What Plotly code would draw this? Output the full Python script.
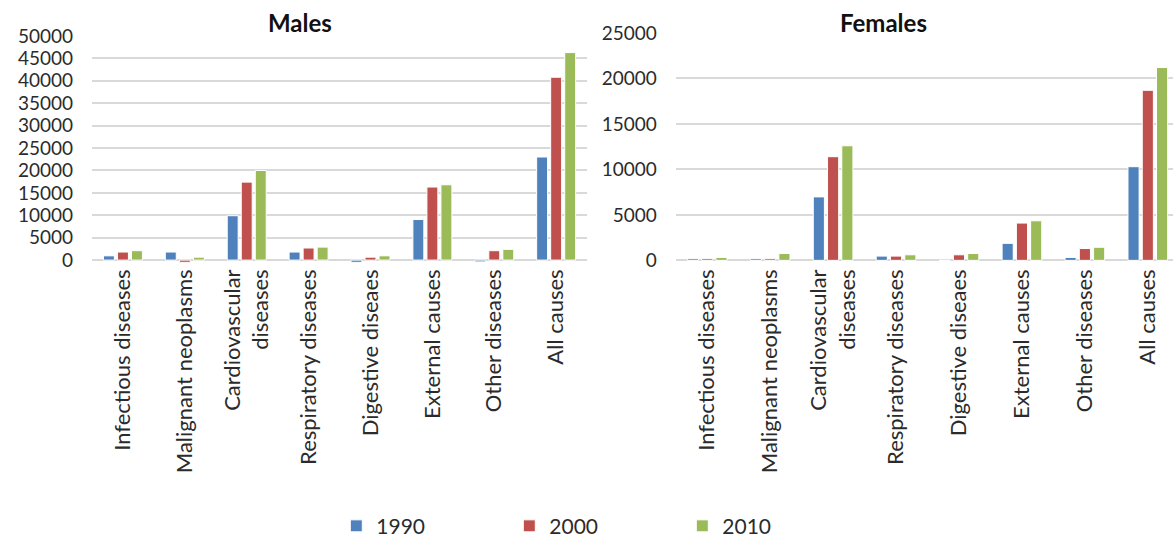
import plotly.graph_objects as go

# Causes of death (x categories) and series
categories = ["Infectious diseases", "Malignant neoplasms", "Cardiovascular<br>diseases",
              "Respiratory diseases", "Digestive diseaes", "External causes",
              "Other diseases", "All causes"]
years = ["1990", "2000", "2010"]

males_1990 = [950, 1800, 9900, 1800, -500, 9050, -400, 23000]
males_2000 = [1800, -500, 17400, 2700, 650, 16300, 2100, 40800]
males_2010 = [2100, 650, 20000, 2900, 950, 16800, 2400, 46300]

females_1990 = [180, 180, 6980, 470, 0, 1870, 320, 10300]
females_2000 = [180, 180, 11400, 470, 610, 4100, 1300, 18700]
females_2010 = [320, 750, 12600, 610, 750, 4350, 1440, 21200]

colors = ["#4F81BD", "#C0504D", "#9BBB59"]
FONT = "Lato"
TXT = "#2B2B2B"

fig = go.Figure()

for yr, vals, col in zip(years, [males_1990, males_2000, males_2010], colors):
    fig.add_trace(go.Bar(x=categories, y=vals, name=yr, marker_color=col,
                         marker_line=dict(color="white", width=1),
                         xaxis="x", yaxis="y", legendgroup=yr))
for yr, vals, col in zip(years, [females_1990, females_2000, females_2010], colors):
    fig.add_trace(go.Bar(x=categories, y=vals, name=yr, marker_color=col,
                         marker_line=dict(color="white", width=1),
                         xaxis="x2", yaxis="y2", legendgroup=yr, showlegend=False))

grid = "#D9D9D9"
xcommon = dict(type="category", showgrid=False, showline=False, ticks="",
               tickangle=-90, tickfont=dict(family=FONT, size=22, color=TXT),
               fixedrange=True)
ycommon = dict(showgrid=True, gridcolor=grid, gridwidth=1.5, zeroline=True,
               zerolinecolor=grid, zerolinewidth=1.5, showline=False,
               tickfont=dict(family=FONT, size=19, color=TXT), dtick=5000,
               tickformat="d", ticklabelstandoff=18)

fig.update_layout(
    width=1173, height=547,
    margin=dict(l=92, r=0, t=33, b=277),
    paper_bgcolor="white", plot_bgcolor="white",
    barmode="group", bargap=0.32, bargroupgap=0.22,
    xaxis=dict(domain=[0, 0.458], range=[-0.5, 7.5], anchor="y", **xcommon),
    xaxis2=dict(domain=[0.54, 1], range=[-0.5, 7.4], anchor="y2", **xcommon),
    yaxis=dict(domain=[0, 0.987], range=[-870, 50000], anchor="x", **ycommon),
    yaxis2=dict(domain=[0, 1], range=[-400, 25000], anchor="x2", **ycommon),
    legend=dict(orientation="h", x=0.226, xanchor="left", y=-1.135, yanchor="middle",
                entrywidth=128, entrywidthmode="pixels",
                font=dict(family=FONT, size=21, color=TXT), traceorder="normal"),
    annotations=[
        dict(text="<b>Males</b>", xref="paper", yref="paper", x=0.192, y=1.0,
             xanchor="center", yanchor="middle", yshift=11, showarrow=False,
             font=dict(family=FONT, size=24, color="#111111")),
        dict(text="<b>Females</b>", xref="paper", yref="paper", x=0.732, y=1.0,
             xanchor="center", yanchor="middle", yshift=11, showarrow=False,
             font=dict(family=FONT, size=24, color="#111111")),
    ],
)

fig.write_html("out.html")
